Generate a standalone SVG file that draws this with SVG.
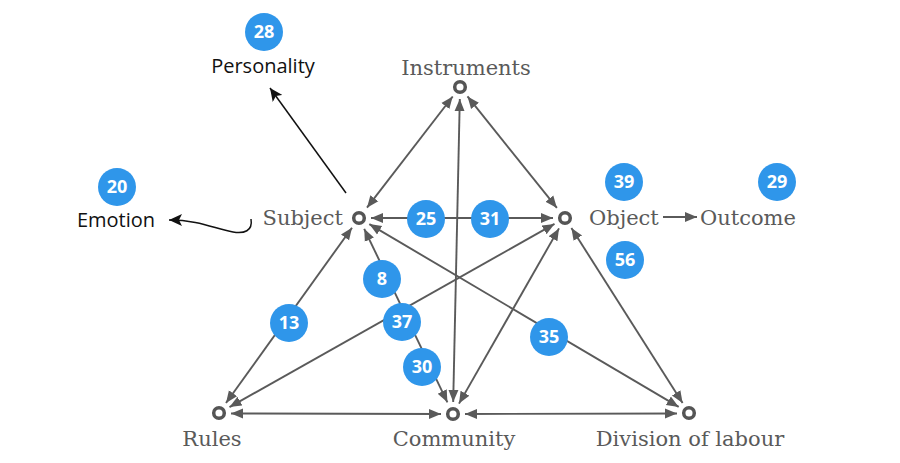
<svg xmlns="http://www.w3.org/2000/svg" width="900" height="463" viewBox="0 0 900 463">
<defs>
<style>
.lbl{font-family:"DejaVu Serif","Liberation Serif",serif;font-size:21px;fill:#5a5a5a;}
.blk{font-family:"Open Sans","Noto Sans",sans-serif;font-size:20px;fill:#111;}
.bub circle{fill:#2f96ea;}
.bub text{font-family:"Open Sans","Noto Sans",sans-serif;font-size:18px;font-weight:bold;fill:#fff;text-anchor:middle;}
.node circle{fill:#fff;stroke:#555;stroke-width:3.5;}
.con line{stroke:#5a5a5a;stroke-width:1.9;marker-start:url(#ah);marker-end:url(#ah);}
.ann{stroke:#111;stroke-width:1.5;fill:none;marker-end:url(#bh);}
</style>
<marker id="ah" markerUnits="userSpaceOnUse" markerWidth="14" markerHeight="12" refX="12" refY="5.5" orient="auto-start-reverse">
<path d="M0,0.5 L12,5.5 L0,10.5 z" fill="#5a5a5a"/>
</marker>
<marker id="bh" markerUnits="userSpaceOnUse" markerWidth="14" markerHeight="12" refX="13" refY="6" orient="auto">
<path d="M0,0 L13,6 L0,12 L3,6 z" fill="#111"/>
</marker>
</defs>
<rect width="900" height="463" fill="#fff"/>
<g id="connectors" class="con">
<line x1="452.7" y1="96.5" x2="367" y2="207.7"/>
<line x1="467.5" y1="96.4" x2="556.9" y2="207.9"/>
<line x1="459.8" y1="99" x2="453.2" y2="402"/>
<line x1="371" y1="218" x2="553" y2="218"/>
<line x1="352" y1="227.7" x2="226" y2="403"/>
<line x1="364.2" y1="228.8" x2="447.4" y2="402.3"/>
<line x1="369.3" y1="224.1" x2="678.7" y2="406.9"/>
<line x1="554.5" y1="223.9" x2="229.5" y2="407.1"/>
<line x1="559" y1="228.4" x2="459" y2="403.6"/>
<line x1="571.4" y1="228" x2="682.6" y2="403"/>
<line x1="231" y1="413.5" x2="441" y2="414"/>
<line x1="465" y1="414" x2="677" y2="413.5"/>
<line x1="663" y1="217" x2="697" y2="217" style="marker-start:none"/>
</g>
<g id="annotations">
<line class="ann" x1="346" y1="193" x2="270" y2="88"/>
<path class="ann" d="M251,219 C253,231 244,234 233,232 C215,229 200,220 169,220"/>
</g>
<g id="instruments" class="node"><circle cx="460" cy="87" r="5.3"/><text class="lbl" x="466" y="75" text-anchor="middle">Instruments</text></g>
<g id="subject" class="node"><circle cx="359" cy="218" r="5.3"/><text class="lbl" x="343" y="225" text-anchor="end">Subject</text></g>
<g id="object" class="node"><circle cx="565" cy="218" r="5.3"/><text class="lbl" x="589" y="225">Object</text></g>
<g id="outcome"><text class="lbl" x="700" y="225">Outcome</text></g>
<g id="rules" class="node"><circle cx="219" cy="413" r="5.3"/><text class="lbl" x="212" y="446" text-anchor="middle">Rules</text></g>
<g id="community" class="node"><circle cx="453" cy="414" r="5.3"/><text class="lbl" x="454" y="446" text-anchor="middle">Community</text></g>
<g id="division" class="node"><circle cx="689" cy="413" r="5.3"/><text class="lbl" x="690" y="446" text-anchor="middle">Division of labour</text></g>
<g id="personality"><text class="blk" x="263" y="73" text-anchor="middle">Personality</text></g>
<g id="emotion"><text class="blk" x="116" y="227" text-anchor="middle">Emotion</text></g>
<g id="b28" class="bub"><circle cx="264" cy="32" r="19"/><text x="264" y="38">28</text></g>
<g id="b20" class="bub"><circle cx="117" cy="187" r="19"/><text x="117" y="193">20</text></g>
<g id="b25" class="bub"><circle cx="426" cy="219" r="19"/><text x="426" y="225">25</text></g>
<g id="b31" class="bub"><circle cx="490" cy="219" r="19"/><text x="490" y="225">31</text></g>
<g id="b39" class="bub"><circle cx="624" cy="182" r="19"/><text x="624" y="188">39</text></g>
<g id="b29" class="bub"><circle cx="777" cy="182" r="19"/><text x="777" y="188">29</text></g>
<g id="b56" class="bub"><circle cx="625" cy="260" r="19"/><text x="625" y="266">56</text></g>
<g id="b8" class="bub"><circle cx="382" cy="279" r="19"/><text x="382" y="285">8</text></g>
<g id="b13" class="bub"><circle cx="289" cy="323" r="19"/><text x="289" y="329">13</text></g>
<g id="b37" class="bub"><circle cx="402" cy="322" r="19"/><text x="402" y="328">37</text></g>
<g id="b30" class="bub"><circle cx="422" cy="367" r="19"/><text x="422" y="373">30</text></g>
<g id="b35" class="bub"><circle cx="549" cy="337" r="19"/><text x="549" y="343">35</text></g>
</svg>
